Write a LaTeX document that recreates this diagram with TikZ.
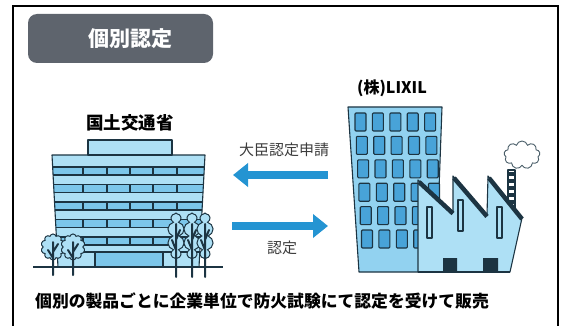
\documentclass[tikz,border=0pt]{standalone}
\usepackage{fontspec}
\setmainfont{Noto Sans CJK JP}
\usetikzlibrary{arrows.meta,shapes.symbols}
\definecolor{ink}{HTML}{1C3442}
\definecolor{sky}{HTML}{AEE0F5}
\definecolor{skydeep}{HTML}{7CC6EA}
\definecolor{tower}{HTML}{92D2F0}
\definecolor{pane}{HTML}{48A3D8}
\definecolor{flowblue}{HTML}{2494D2}
\definecolor{slate}{HTML}{5E646D}
\definecolor{labelgray}{HTML}{3C3C3C}
\tikzset{
  outline/.style={draw=ink,line width=1.1pt,line join=round},
  crown/.style={cloud,cloud puffs=10,cloud ignores aspect,draw=ink,line width=1pt,fill=sky,inner sep=0pt},
  trunk/.style={ink,line width=2pt,line cap=round},
  flow/.style={flowblue,line width=8pt,-{Triangle[width=23pt,length=15pt]}},
}
\begin{document}
\begin{tikzpicture}[x=1pt,y=-1pt]
    \useasboundingbox (0,0) rectangle (567,326);
    % frame and heading
    \draw[black,line width=2pt] (13,6) rectangle (558,334);
    \fill[slate,rounded corners=9pt] (28,14) rectangle (213,63);
    \node[text=white,font=\bfseries\fontsize{21}{24}\selectfont] (head) at (130,39) {個別認定};

    % ministry building
    \def\body{(52,155)--(205,155)--(199,267)--(58,267)--cycle}
    \fill[sky] \body;
    \begin{scope}
        \clip \body;
        \foreach \t in {167,184.5,202,219.5,237}{
            \fill[skydeep] (40,\t) rectangle (220,\t+8);
            \draw[ink,line width=1.1pt] (40,\t)--(220,\t) (40,\t+8)--(220,\t+8);
            \foreach \m in {83,107,130,153,177}
                \draw[ink,line width=1.1pt] (\m,\t)--(\m,\t+8);
        }
        \draw[ink,line width=1.1pt] (40,252)--(220,252);
    \end{scope}
    \draw[outline] \body;
    \draw[outline,fill=sky] (88,140) rectangle (172,155);
    \draw[outline,fill=skydeep] (95,252) rectangle (163,267);
    \draw[ink,line width=1.3pt] (33,267)--(223,267);
    % trees
    \foreach \x in {53,73}{
        \node[crown,minimum width=24pt,minimum height=26pt] at (\x,247) {};
        \draw[trunk] (\x,275)--(\x,242) (\x,258)--(\x-5,250) (\x,252)--(\x+5,244);
    }
    \foreach \x in {176,192,205}{
        \node[crown,minimum width=17pt,minimum height=46pt] at (\x,236) {};
        \draw[trunk] (\x,277)--(\x,224) (\x,250)--(\x-4,240) (\x,240)--(\x+4,230);
    }
    \node[font=\bfseries\fontsize{17.5}{20}\selectfont] (mlit) at (130,123) {国土交通省};

    % company tower
    \draw[outline,fill=tower] (348,107)--(442,107)--(436,272)--(359,272)--cycle;
    \foreach \r in {0,...,5}
        \foreach \c in {0,...,4}
            \draw[outline,fill=pane,rounded corners=1pt] ({355+1.3*\r+17.4*\c},{113+23.4*\r}) rectangle ++(11,18);
    % chimney and smoke
    \draw[outline,fill=white] (508,170) rectangle (515,210);
    \foreach \y in {172,179,...,205}
        \fill[ink] (508,\y) rectangle (515,\y+3.5);
    \node[cloud,cloud puffs=9,cloud ignores aspect,draw=ink!80,fill=white,line width=0.9pt,
        minimum width=36pt,minimum height=28pt,inner sep=0pt] (smoke) at (522,155) {};
    % factory
    \draw[outline,fill=sky] (418,180)--(453,212)--(453,176)--(487,215)--(488,176)--(522,218)--(510,272)--(418,272)--cycle;
    \draw[ink,line width=4.5pt] (419,182)--(453,213.5) (454,178)--(487,216.5) (489,178)--(522,219);
    \foreach \x/\y in {427/207,458/200,497/207}
        \draw[outline,fill=sky] (\x,\y) rectangle ++(5,31);
    \fill[ink] (443,258) rectangle (457,272) (483,258) rectangle (498,272);
    \draw[outline] (418,272)--(510,272);
    \node[font=\bfseries\fontsize{16}{19}\selectfont] (lixil) at (392,88) {(株)LIXIL};

    % application and approval
    \coordinate (reqfrom) at (328,175);
    \coordinate (reqto) at (233,175);
    \coordinate (okfrom) at (232,226);
    \coordinate (okto) at (328,226);
    \draw[flow] (reqfrom)--(reqto);
    \draw[flow] (okfrom)--(okto);
    \node[text=labelgray,font=\fontsize{15}{18}\selectfont] (request) at (284,150) {大臣認定申請};
    \node[text=labelgray,font=\fontsize{15}{18}\selectfont] (approve) at (282,248) {認定};

    \node[font=\bfseries\fontsize{16.8}{20}\selectfont] (note) at (262,301) {個別の製品ごとに企業単位で防火試験にて認定を受けて販売};
\end{tikzpicture}
\end{document}
